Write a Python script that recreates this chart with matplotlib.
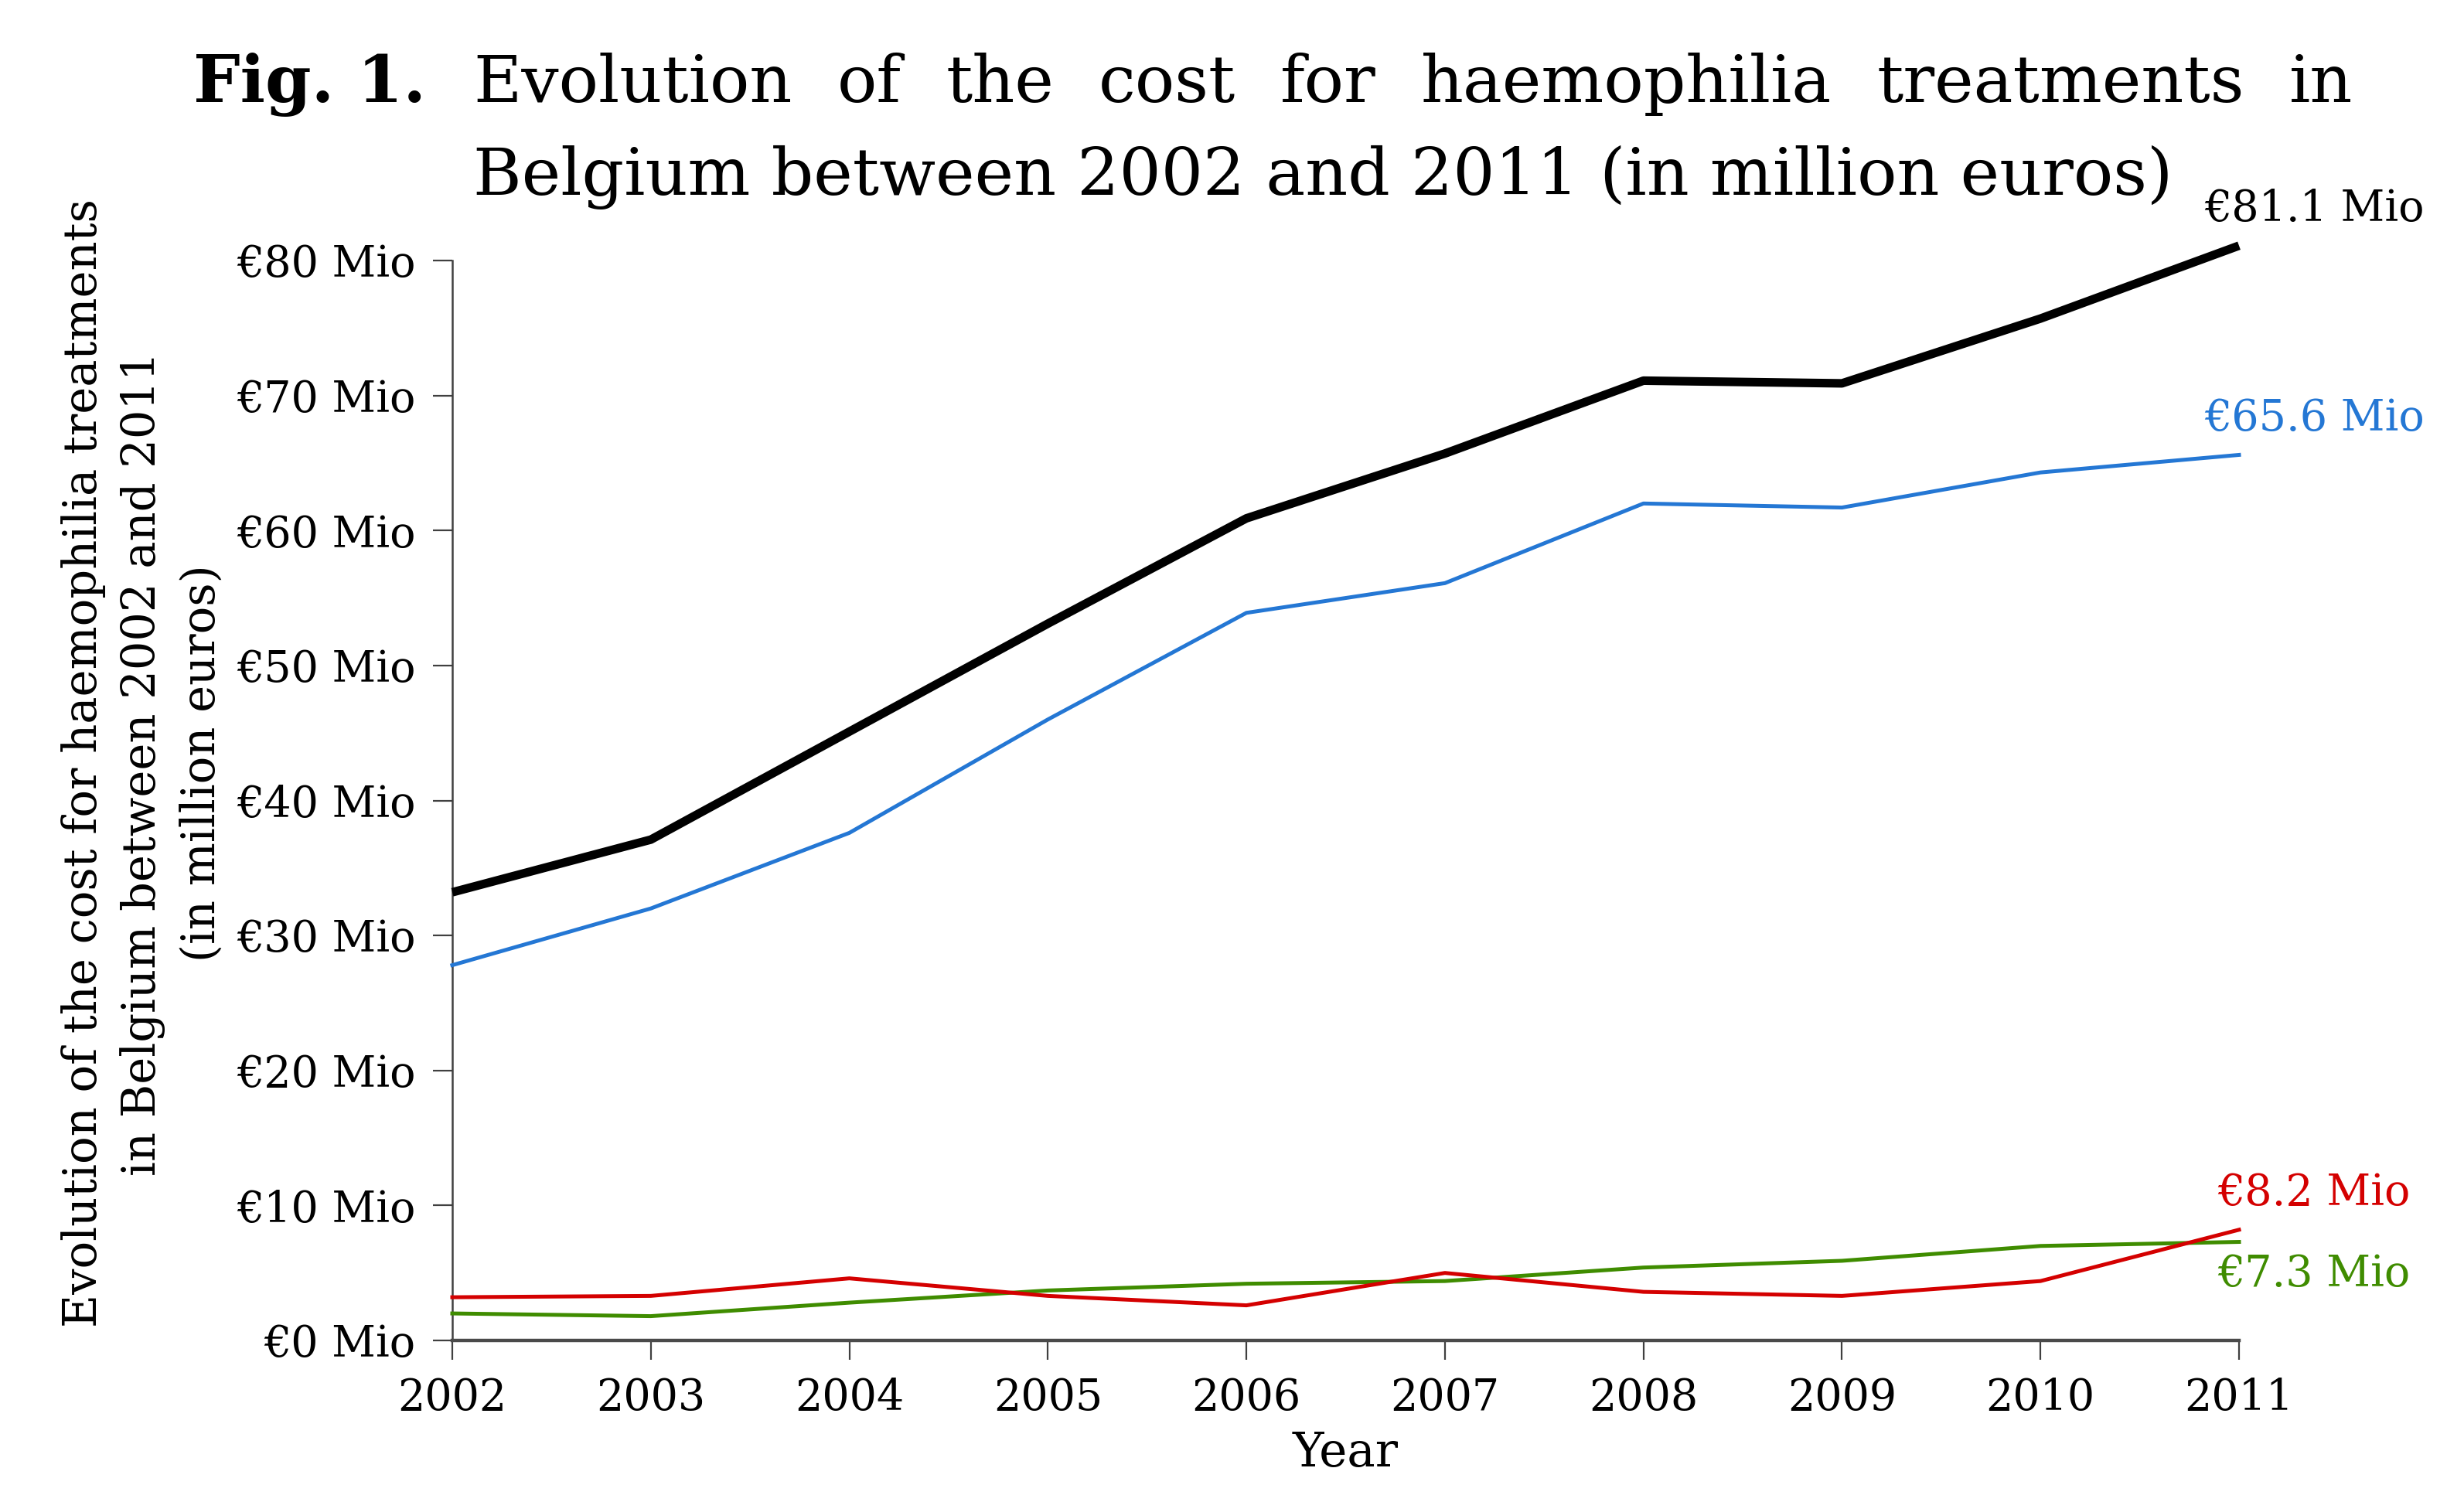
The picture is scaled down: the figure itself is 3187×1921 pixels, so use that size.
import matplotlib
matplotlib.use("Agg")
import matplotlib.pyplot as plt

years = [2002, 2003, 2004, 2005, 2006, 2007, 2008, 2009, 2010, 2011]
total = [33.2, 37.1, 45.1, 53.1, 60.9, 65.7, 71.1, 70.9, 75.7, 81.1]
blue_series = [27.8, 32.0, 37.6, 46.0, 53.9, 56.1, 62.0, 61.7, 64.3, 65.6]
red_series = [3.2, 3.3, 4.6, 3.3, 2.6, 5.0, 3.6, 3.3, 4.4, 8.2]
green_series = [2.0, 1.8, 2.8, 3.7, 4.2, 4.4, 5.4, 5.9, 7.0, 7.3]
end_labels = ["€81.1 Mio", "€65.6 Mio", "€8.2 Mio", "€7.3 Mio"]
yticks = [0, 10, 20, 30, 40, 50, 60, 70, 80]
ytick_labels = [f"€{v} Mio" for v in yticks]

FONT = "DejaVu Serif"
plt.rcParams['font.family'] = [FONT, 'DejaVu Sans']

W, H, DPI = 3187, 1921, 200
fig = plt.figure(figsize=(W / DPI, H / DPI), dpi=DPI)
fig.patch.set_facecolor("white")
ax = fig.add_axes([585 / W, 1 - 1734 / H, (2896 - 585) / W, (1734 - 337) / H])

ax.plot(years, total, color="black", lw=4.0, clip_on=False, solid_capstyle="butt", zorder=5)
ax.plot(years, blue_series, color="#2477d4", lw=1.8, clip_on=False, zorder=4)
ax.plot(years, green_series, color="#3f8c00", lw=1.8, clip_on=False, zorder=3)
ax.plot(years, red_series, color="#d40000", lw=1.8, clip_on=False, zorder=4)

ax.set_xlim(2002, 2011)
ax.set_ylim(0, 80)
ax.set_xticks(years)
ax.set_xticklabels([str(y) for y in years], fontsize=20)
ax.set_yticks(yticks)
ax.set_yticklabels(ytick_labels, fontsize=20)
for s in ["top", "right"]:
    ax.spines[s].set_visible(False)
ax.spines["left"].set_color("#404040")
ax.spines["left"].set_linewidth(0.9)
ax.spines["bottom"].set_color("#4a4a4a")
ax.spines["bottom"].set_linewidth(1.6)
ax.tick_params(axis="y", direction="out", length=9, width=0.8, color="#404040", pad=8)
ax.tick_params(axis="x", direction="out", length=9, width=0.8, color="#404040", pad=8)

ax.set_xlabel("Year", fontsize=22, labelpad=5)

# end labels
cols = ["black", "#2477d4", "#d40000", "#3f8c00"]
vals = [total[-1], blue_series[-1], red_series[-1], green_series[-1]]
offs = [(-16, 17), (-16, 17), (-10, 17), (-10, -15)]
for lab, c, v, o in zip(end_labels, cols, vals, offs):
    ax.annotate(lab, xy=(years[-1], v), xytext=o, textcoords="offset points",
                ha="left", va="center", color=c, fontsize=20, annotation_clip=False)

# y label
fig.text(185 / W, 0.486,
         "Evolution of the cost for haemophilia treatments\nin Belgium between 2002 and 2011\n(in million euros)",
         rotation=90, ha="center", va="center", multialignment="center",
         fontsize=21.3, linespacing=1.4)

# title, justified first line
renderer = fig.canvas.get_renderer()
line2 = "Belgium between 2002 and 2011 (in million euros)"
x_start = 612 / W
x_end1 = 3043 / W
x_end2 = 2813 / W
base1 = 1 - 132 / H
base2 = 1 - 252 / H
fs = 34
t2 = fig.text(x_start, base2, line2, fontsize=fs, va="baseline", ha="left")
w = t2.get_window_extent(renderer).width
fs = fs * (x_end2 - x_start) * W / w
t2.set_fontsize(fs)

fig.text(250 / W, base1, "Fig. 1.", fontsize=fs, fontweight="bold", va="baseline", ha="left")
words = "Evolution of the cost for haemophilia treatments in".split()
tw = []
ts = []
for wd in words:
    t = fig.text(0, base1, wd, fontsize=fs, va="baseline", ha="left")
    ts.append(t)
    tw.append(t.get_window_extent(renderer).width / W)
gap = ((x_end1 - x_start) - sum(tw)) / (len(words) - 1)
x = x_start
for t, wdt in zip(ts, tw):
    t.set_x(x)
    x += wdt + gap

fig.savefig("out.png", dpi=DPI, facecolor="white")
